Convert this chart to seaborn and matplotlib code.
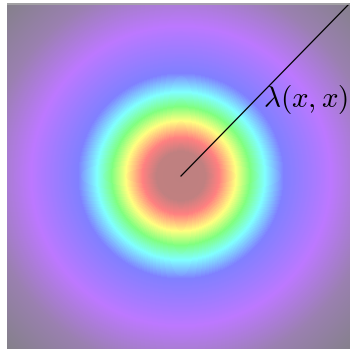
import numpy as np
import matplotlib
matplotlib.use("Agg")
import matplotlib.pyplot as plt
import seaborn as sns
from matplotlib.colors import LinearSegmentedColormap

# colour stops of the radial field: distance from centre (px) -> colour
stop_radius = [0, 24, 38, 55, 69, 84, 103, 150, 195, 245]
stop_colors = ["#be8080", "#c08080", "#ff8080", "#ffff80", "#80ff80",
               "#80ffff", "#8080ff", "#bc78ff", "#9a80b0", "#84808a"]
label_text = r"$\lambda(x,x)$"

# grid of the field (one cell per pixel)
nx, ny = 343, 346
cx, cy = 174.0, 173.0  # centre of the field in cell units
xx, yy = np.meshgrid(np.arange(nx) + 0.5, np.arange(ny) + 0.5)
field = np.hypot(xx - cx, yy - cy)

rmax = stop_radius[-1]
cmap = LinearSegmentedColormap.from_list(
    "radial", [(r / rmax, c) for r, c in zip(stop_radius, stop_colors)])

fig = plt.figure(figsize=(3.52, 3.51), dpi=100)
ax = fig.add_axes([7 / 352, 1 - 349 / 351, 343 / 352, 346 / 351])
sns.heatmap(field, ax=ax, cmap=cmap, vmin=0, vmax=rmax, cbar=False,
            xticklabels=False, yticklabels=False, rasterized=True)
ax.set_xlim(0, nx)
ax.set_ylim(ny, 0)

plt.rcParams["mathtext.fontset"] = "cm"
ax.plot([cx, nx], [cy, 0], color="black", lw=0.9)
ax.text(nx - 2, 97, label_text, fontsize=21, ha="right", va="center",
        color="black")
ax.plot([0, nx], [0.5, 0.5], color="#a8a8a8", lw=1.2)

fig.savefig("out.png", dpi=100)
